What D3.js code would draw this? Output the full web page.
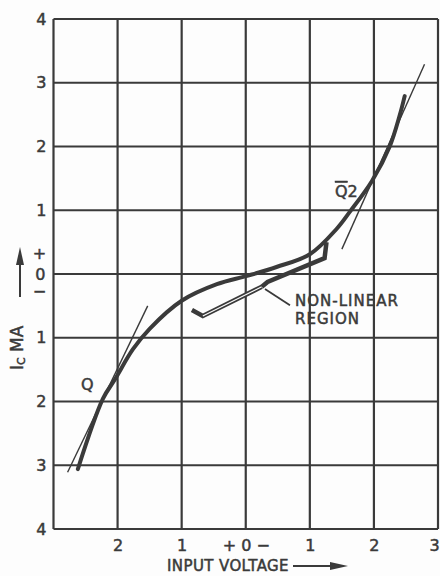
<!DOCTYPE html>
<html>
<head>
<meta charset="utf-8">
<script src="https://cdn.jsdelivr.net/npm/d3@7"></script>
<style>
  body { margin: 0; background: #fdfdfd; }
  svg { display: block; }
  text { font-family: "DejaVu Sans", sans-serif; fill: #3a3a3a; stroke: #3a3a3a; stroke-width: 0.5px; }
</style>
</head>
<body>
<svg width="440" height="576"></svg>
<script>
// values (input volts, collector mA)
var xTicks = [-3, -2, -1, 0, 1, 2, 3];
var xTickLabels = ["", "2", "1", "+ 0 \u2212", "1", "2", "3"];
var yTicks = [4, 3, 2, 1, 0, -1, -2, -3, -4];
var yTickLabels = ["4", "3", "2", "1", "0", "1", "2", "3", "4"];

var mainCurve = [
  [-2.62, -3.06], [-2.23, -1.96], [-2.04, -1.65], [-1.76, -1.18], [-1.50, -0.86],
  [-1.00, -0.42], [-0.45, -0.16], [0.02, -0.03], [0.48, 0.11], [1.00, 0.31],
  [1.42, 0.71], [1.62, 0.97], [1.97, 1.46], [2.25, 2.01], [2.40, 2.48], [2.48, 2.79]
];
var tangentQ = [[-2.78, -3.11], [-1.53, -0.50]];
var tangentQ2 = [[1.50, 0.39], [2.79, 3.29]];
var nonLinearHollow = [[-0.84, -0.565], [-0.67, -0.66], [0.25, -0.20]];
var nonLinearSolid = [[0.25, -0.20], [0.34, -0.125], [1.23, 0.25], [1.26, 0.50]];
var leader = [[0.30, -0.235], [0.69, -0.49]];

var svg = d3.select("svg"),
    ink = "#3a3a3a";

var x = d3.scaleLinear().domain([-3, 3]).range([53.5, 438]);
var y = d3.scaleLinear().domain([-4, 4]).range([529, 19]);

var line = d3.line().x(function (d) { return x(d[0]); }).y(function (d) { return y(d[1]); });

// grid
var grid = svg.append("g").attr("stroke", ink).attr("stroke-width", 2.2);
grid.selectAll(".vx").data(xTicks).enter().append("line")
    .attr("x1", function (d) { return x(d); }).attr("x2", function (d) { return x(d); })
    .attr("y1", y(4)).attr("y2", y(-4));
grid.selectAll(".hy").data(yTicks).enter().append("line")
    .attr("y1", function (d) { return y(d); }).attr("y2", function (d) { return y(d); })
    .attr("x1", x(-3)).attr("x2", x(3));

// axes, labels only
var xAxis = svg.append("g")
    .attr("transform", "translate(0," + (y(-4) + 19) + ")")
    .call(d3.axisBottom(x).tickValues(xTicks).tickSize(0)
        .tickFormat(function (d, i) { return xTickLabels[i]; }));
var yAxis = svg.append("g")
    .attr("transform", "translate(" + (x(-3) - 4) + ",0)")
    .call(d3.axisLeft(y).tickValues(yTicks).tickSize(0)
        .tickFormat(function (d, i) { return yTickLabels[i]; }));
[xAxis, yAxis].forEach(function (a) {
  a.select(".domain").remove();
  a.selectAll("text").attr("font-size", "16px").attr("font-family", "DejaVu Sans")
      .attr("fill", ink).attr("stroke", ink).attr("stroke-width", 0.5);
});
xAxis.selectAll("text").attr("dy", "0");
xAxis.selectAll(".tick").filter(function (d) { return d === 3; }).select("text").attr("dx", "-4");
// plus / minus around the zero on the current axis
var zeroTick = yAxis.selectAll(".tick").filter(function (d) { return d === 0; });
zeroTick.select("text").attr("x", -4);
zeroTick.append("text").attr("x", -10).attr("y", -21).attr("dy", "0.35em")
    .attr("text-anchor", "middle").attr("font-size", "16px").text("+");
zeroTick.append("text").attr("x", -10).attr("y", 17).attr("dy", "0.35em")
    .attr("text-anchor", "middle").attr("font-size", "16px").text("\u2212");

// curves
svg.append("path").datum(tangentQ).attr("d", line)
    .attr("fill", "none").attr("stroke", ink).attr("stroke-width", 1.4);
svg.append("path").datum(tangentQ2).attr("d", line)
    .attr("fill", "none").attr("stroke", ink).attr("stroke-width", 1.4);
svg.append("path").datum(mainCurve).attr("d", line.curve(d3.curveCatmullRom))
    .attr("fill", "none").attr("stroke", ink).attr("stroke-width", 4)
    .attr("stroke-linecap", "round");
line.curve(d3.curveLinear);

// non-linear band
svg.append("path").datum(nonLinearHollow).attr("d", line)
    .attr("fill", "none").attr("stroke", ink).attr("stroke-width", 4.5);
svg.append("path").datum(nonLinearHollow.slice(1)).attr("d", line)
    .attr("fill", "none").attr("stroke", "#fdfdfd").attr("stroke-width", 1.1);
svg.append("path").datum(nonLinearSolid).attr("d", line)
    .attr("fill", "none").attr("stroke", ink).attr("stroke-width", 4.5);
svg.append("path").datum(leader).attr("d", line)
    .attr("fill", "none").attr("stroke", ink).attr("stroke-width", 1.8);

svg.append("text").attr("x", 295).attr("y", 306).attr("font-size", "15px")
    .attr("letter-spacing", "1").text("NON-LINEAR");
svg.append("text").attr("x", 295).attr("y", 324).attr("font-size", "15px")
    .attr("letter-spacing", "1").text("REGION");

// curve labels
svg.append("text").attr("x", 81).attr("y", 390).attr("font-size", "16px").text("Q");
var q2 = svg.append("text").attr("x", 335).attr("y", 197).attr("font-size", "16px");
q2.append("tspan").style("text-decoration", "overline").text("Q");
q2.append("tspan").text("2");

// axis titles
var yt = svg.append("text").attr("transform", "translate(23,370) rotate(-90)")
    .attr("font-size", "17px");
yt.append("tspan").text("I");
yt.append("tspan").attr("font-size", "11px").attr("dy", "2").text("C");
yt.append("tspan").attr("dy", "-2").text(" MA");

svg.append("line").attr("x1", 20).attr("x2", 20).attr("y1", 297).attr("y2", 262)
    .attr("stroke", ink).attr("stroke-width", 2);
svg.append("path").attr("d", "M20,247 L16,265 L24,265 Z").attr("fill", ink);

svg.append("text").attr("x", 167).attr("y", 571).attr("font-size", "15px")
    .attr("letter-spacing", "0.4").text("INPUT VOLTAGE");
svg.append("line").attr("x1", 293).attr("x2", 333).attr("y1", 566).attr("y2", 566)
    .attr("stroke", ink).attr("stroke-width", 1.8);
svg.append("path").attr("d", "M348,566 L330,562 L330,570 Z").attr("fill", ink);
</script>
</body>
</html>
